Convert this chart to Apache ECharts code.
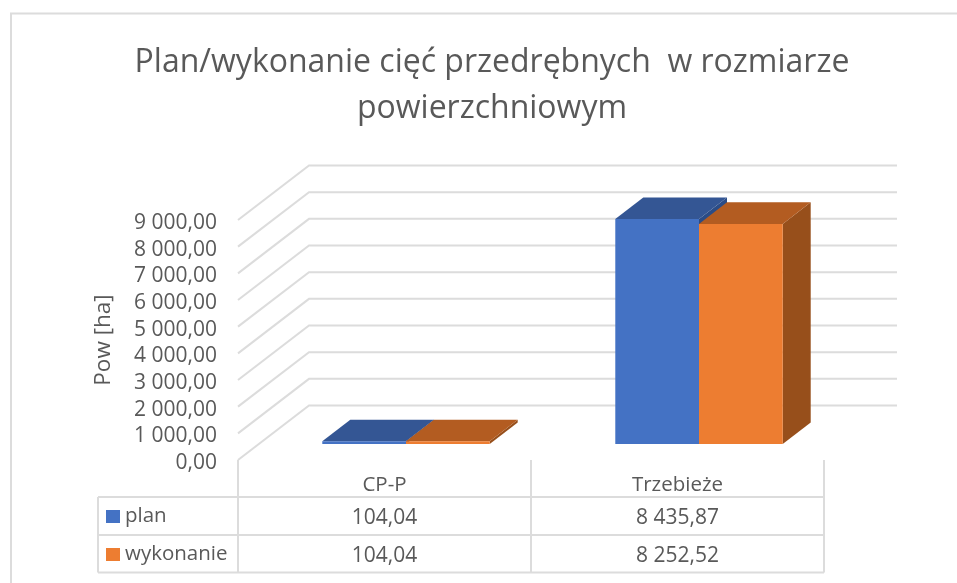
<!DOCTYPE html>
<html>
<head>
<meta charset="utf-8">
<style>html,body{margin:0;padding:0;background:#fff}#c{width:957px;height:583px}</style>
<script src="https://cdn.jsdelivr.net/npm/echarts@6/dist/echarts.min.js"></script>
</head>
<body>
<div id="c"></div>
<script>
var titleText = 'Plan/wykonanie cięć przedrębnych  w rozmiarze\npowierzchniowym';
var yAxisName = 'Pow [ha]';
var categories = ['CP-P', 'Trzebieże'];
var planValues = [104.04, 8435.87];
var wykonanieValues = [104.04, 8252.52];
var tickValues = [0, 1000, 2000, 3000, 4000, 5000, 6000, 7000, 8000, 9000];

var FONT = '"Open Sans", "Noto Sans", sans-serif';
var TEXT = '#595959';
var LINE = '#dcdcdc';
var LINE_W = 2;

function fmt(v, dec) {
  var s = v.toFixed(2).split('.');
  return s[0].replace(/\B(?=(\d{3})+$)/g, '\u00a0') + ',' + s[1];
}

// oblique projection of the chart's depth, in pixels
var WALL_DX = 71, WALL_DY = -54.5, WALL_RIGHT_DX = 73;
var BAR_NEAR_DX = 21.5, BAR_NEAR_DY = -16, BAR_DX = 28, BAR_DY = -21.6;
var ROW_LINES = [37, 75, 112.5];
var LEFT_EDGE = 98;

function lineStyle() { return { stroke: LINE, lineWidth: LINE_W, fill: null }; }

function renderWall(params, api) {
  var cs = params.coordSys;
  var y = api.coord([0, api.value(1)])[1];
  var xb = cs.x + WALL_DX, yb = y + WALL_DY;
  return { type: 'polyline', silent: true,
    shape: { points: [[cs.x, y], [xb, yb], [cs.x + cs.width + WALL_RIGHT_DX, yb]] },
    style: lineStyle() };
}

function barRenderer(seriesIndex, colors) {
  return function (params, api) {
    var base = api.coord([api.value(0), 0]);
    var top = api.coord([api.value(0), api.value(1)]);
    var w = api.size([1, 0])[0] / 3.5;
    var x0 = base[0] + BAR_NEAR_DX + seriesIndex * w;
    var y0 = base[1] + BAR_NEAR_DY;
    var y1 = top[1] + BAR_NEAR_DY;
    var x1 = x0 + w;
    return { type: 'group', silent: true, children: [
      { type: 'polygon', shape: { points: [[x1, y1], [x1 + BAR_DX, y1 + BAR_DY], [x1 + BAR_DX, y0 + BAR_DY], [x1, y0]] },
        style: { fill: colors.side } },
      { type: 'polygon', shape: { points: [[x0, y1], [x0 + BAR_DX, y1 + BAR_DY], [x1 + BAR_DX, y1 + BAR_DY], [x1, y1]] },
        style: { fill: colors.top } },
      { type: 'rect', shape: { x: x0, y: y1, width: w, height: y0 - y1 }, style: { fill: colors.front } }
    ] };
  };
}

function renderTable(params, api) {
  var cs = params.coordSys, bottom = cs.y + cs.height;
  var kids = [];
  if (params.dataIndex === 0) {
    ROW_LINES.forEach(function (d) {
      kids.push({ type: 'line', shape: { x1: LEFT_EDGE, y1: bottom + d, x2: cs.x + cs.width, y2: bottom + d }, style: lineStyle() });
    });
    kids.push({ type: 'line', shape: { x1: LEFT_EDGE, y1: bottom + ROW_LINES[0], x2: LEFT_EDGE, y2: bottom + ROW_LINES[2] }, style: lineStyle() });
  }
  var cx = api.coord([api.value(0), 0])[0];
  [api.value(1), api.value(2)].forEach(function (v, r) {
    kids.push({ type: 'text', style: {
      x: cx, y: bottom + (ROW_LINES[r] + ROW_LINES[r + 1]) / 2 + 2.5,
      text: fmt(v), align: 'center', verticalAlign: 'middle',
      font: '21px ' + FONT, fill: TEXT } });
  });
  return { type: 'group', silent: true, children: kids };
}

var chart = echarts.init(document.getElementById('c'), null, { renderer: 'canvas' });
chart.setOption({
  animation: false,
  backgroundColor: '#fff',
  title: {
    text: titleText, left: 487, top: 35, textAlign: 'center',
    textStyle: { fontFamily: FONT, fontSize: 32, fontWeight: 'normal', color: TEXT, lineHeight: 46 }
  },
  legend: {
    orient: 'vertical', left: 106, top: 506, itemWidth: 14, itemHeight: 13, itemGap: 17,
    padding: 0, icon: 'rect', data: ['plan', 'wykonanie'], selectedMode: false,
    textStyle: { fontFamily: FONT, fontSize: 20.5, color: TEXT, lineHeight: 13 }
  },
  grid: { left: 238, top: 220, width: 586, height: 240, containLabel: false },
  xAxis: {
    type: 'category', data: categories, boundaryGap: true,
    axisLine: { show: false },
    axisTick: { show: true, length: 112.5, lineStyle: { color: LINE, width: LINE_W } },
    axisLabel: { fontFamily: FONT, fontSize: 20.5, color: TEXT, margin: 15 },
    splitLine: { show: false }
  },
  yAxis: {
    type: 'value', min: 0, max: 9000, interval: 1000,
    name: yAxisName, nameLocation: 'middle', nameRotate: 90, nameGap: 123,
    nameTextStyle: { fontFamily: FONT, fontSize: 22.5, color: TEXT },
    axisLine: { show: false }, axisTick: { show: false }, splitLine: { show: false },
    axisLabel: { fontFamily: FONT, fontSize: 21, color: TEXT, margin: 21, verticalAlign: 'top', lineHeight: 6, formatter: function (v) { return fmt(v); } }
  },
  graphic: [{ type: 'polyline', silent: true, z: -1,
    shape: { points: [[11, 583], [11, 13.5], [957, 13.5]] },
    style: { stroke: LINE, lineWidth: 2, fill: null } }],
  series: [
    { type: 'custom', name: 'walls', silent: true, z: 1, renderItem: renderWall,
      data: tickValues.map(function (t) { return [0, t]; }), encode: { x: 0, y: 1 } },
    { type: 'custom', name: 'plan', silent: true, z: 2, itemStyle: { color: '#4472C4' },
      renderItem: barRenderer(-1, { front: '#4472C4', top: '#345694', side: '#2B4C86' }),
      data: categories.map(function (c, i) { return [i, planValues[i]]; }), encode: { x: 0, y: 1 } },
    { type: 'custom', name: 'wykonanie', silent: true, z: 3, itemStyle: { color: '#ED7D31' },
      renderItem: barRenderer(0, { front: '#ED7D31', top: '#B35C21', side: '#974F1B' }),
      data: categories.map(function (c, i) { return [i, wykonanieValues[i]]; }), encode: { x: 0, y: 1 } },
    { type: 'custom', name: 'table', silent: true, z: 4, renderItem: renderTable,
      data: categories.map(function (c, i) { return [i, planValues[i], wykonanieValues[i]]; }), encode: { x: 0 } }
  ]
});
</script>
</body>
</html>
